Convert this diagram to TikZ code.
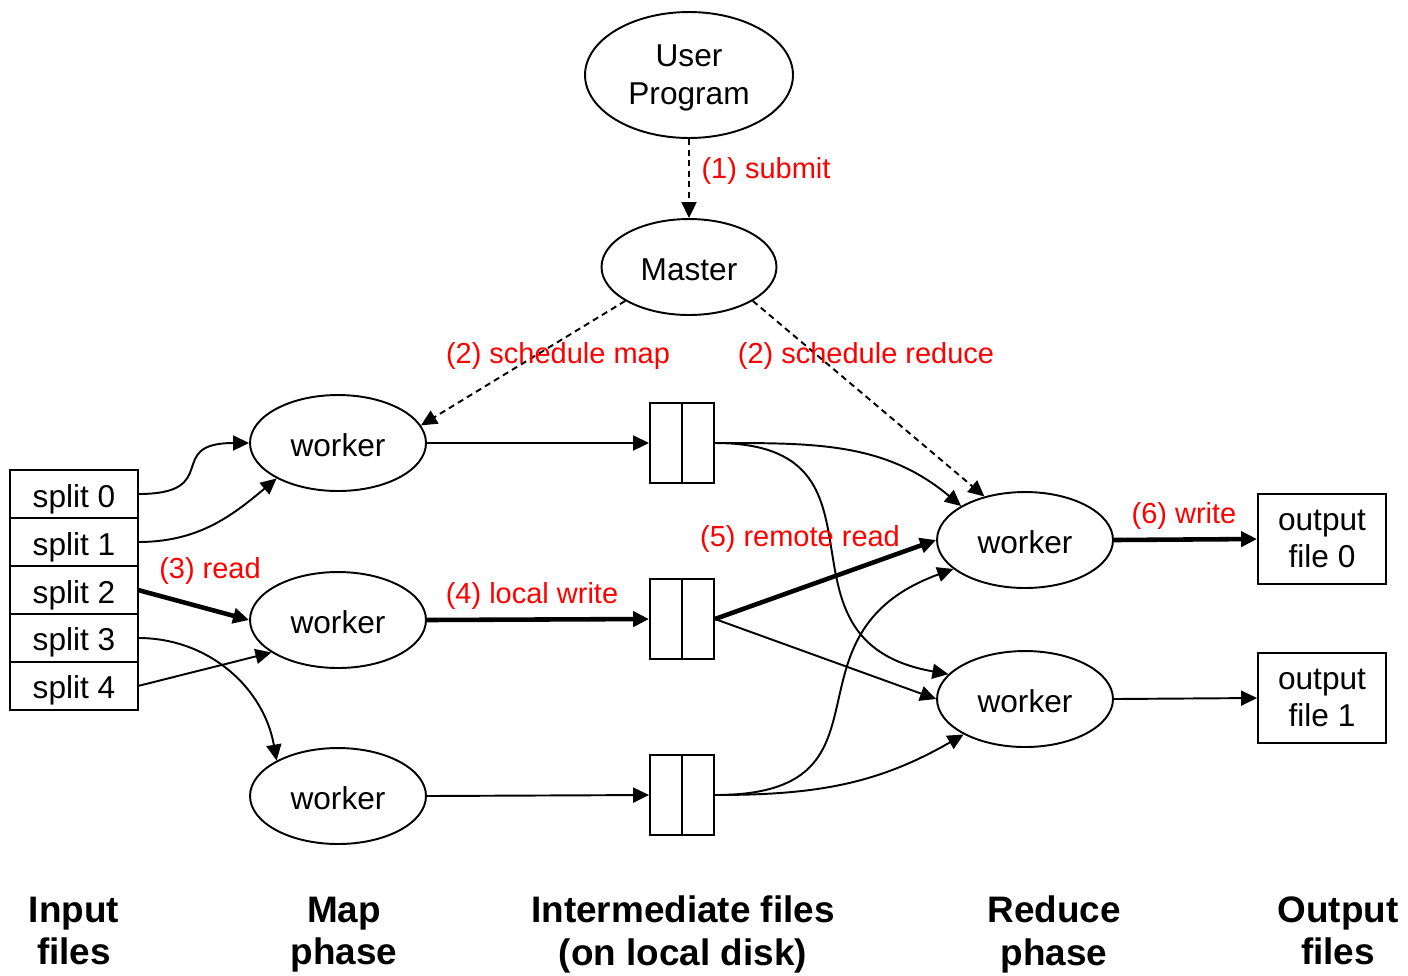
\documentclass[tikz,border=0pt]{standalone}
\usepackage{fontspec}
\setmainfont{Liberation Sans}
\usetikzlibrary{arrows.meta}
\usetikzlibrary{shapes.geometric}
\usetikzlibrary{positioning}

\tikzset{
  wk/.style={draw,ellipse,minimum width=3.52cm,minimum height=1.92cm,inner sep=0pt,
    text height=15.5pt,text depth=0pt,font=\fontsize{18}{21.6}\selectfont},
  split/.style={draw,rectangle,minimum width=2.56cm,minimum height=0.96cm,inner sep=0pt,
    outer sep=0pt,text height=14.8pt,text depth=0pt,font=\fontsize{18}{21.6}\selectfont},
  imd/.style={draw,rectangle,minimum width=1.28cm,minimum height=1.6cm,inner sep=0pt},
  outf/.style={draw,rectangle,minimum width=2.56cm,minimum height=1.8cm,inner sep=0pt,
    align=center,text depth=-3pt,font=\fontsize{18}{21}\selectfont},
  lbl/.style={text=red,inner sep=0pt,font=\fontsize{16.5}{19.8}\selectfont},
  phase/.style={align=center,inner sep=0pt,text depth=5pt,font=\fontsize{21}{24}\selectfont\bfseries},
  thk/.style={line width=2.6pt},
  dsh/.style={dash pattern=on 3.5pt off 2.5pt}
}

\begin{document}
\begin{tikzpicture}[x=0.02cm,y=0.02cm,line width=1.1pt,
  >={Triangle[length=3.2mm,width=3mm]}]
\useasboundingbox (0,-975) rectangle (1408,0);

\node[wk,minimum width=4.16cm,minimum height=2.52cm,align=center,text height=,text depth=-3pt]
  (up) at (689,-75) {User\\Program};
\node[wk,minimum width=3.5cm] (ms) at (689,-267) {Master};

% input files
\node[split] (s0) at (74,-494) {split 0};
\foreach \i [count=\j from 0] in {1,...,4}
  \node[split,below=0pt of s\j] (s\i) {split \i};

% map and reduce workers, intermediate files
\foreach \n/\y in {1/443,2/620,3/796}
  \node[wk] (m\n) at (338,-\y) {worker};
\foreach \n/\y in {1/443,2/619,3/795}{
  \node[imd] (i\n) at (682,-\y) {};
  \draw (i\n.north) -- (i\n.south);
}
\node[wk] (r1) at (1025,-540) {worker};
\node[wk] (r2) at (1025,-699) {worker};
\node[outf] (o0) at (1322,-539) {output\\file 0};
\node[outf] (o1) at (1322,-698) {output\\file 1};

% master
\draw[dsh,->] (up.south) -- (ms.north);
\draw[dsh,->] (ms.208) -- (m1.12);
\draw[dsh,->] (ms.332) -- (r1.133);

% read
\draw[->] (s0.east) to[out=0,in=180,looseness=1.8] (m1.west);
\draw[->] (s1.east) to[out=0,in=220] (m1.210);
\draw[thk,->] (s2.east) -- (m2.west);
\draw[->] (s3.east) to[out=0,in=100] (m3.150);
\draw[->] (s4.east) -- (m2.206);

% local write
\draw[->] (m1.east) -- (i1.west);
\draw[thk,->] (m2.east) -- (i2.west);
\draw[->] (m3.east) -- (i3.west);

% remote read
\draw[->] (i1.east) to[out=0,in=140] (r1.152);
\draw[->] (i1.east) to[out=0,in=170,looseness=1.5] (r2.162);
\draw[thk,->] (i2.east) -- (r1.west);
\draw[->] (i2.east) -- (r2.west);
\draw[->] (i3.east) to[out=0,in=200,looseness=1.5] (r1.202);
\draw[->] (i3.east) to[out=0,in=210] (r2.210);

% write
\draw[thk,->] (r1.east) -- (o0.west);
\draw[->] (r2.east) -- (o1.west);

\node[lbl] (l1) at (766,-171) {(1) submit};
\node[lbl] (l2) at (558,-356) {(2) schedule map};
\node[lbl] (l2r) at (866,-356) {(2) schedule reduce};
\node[lbl] (l3) at (210,-571) {(3) read};
\node[lbl] (l4) at (532,-596) {(4) local write};
\node[lbl] (l5) at (800,-539) {(5) remote read};
\node[lbl] (l6) at (1184,-516) {(6) write};

\node[phase] (pin) at (74,-935) {Input\\files};
\node[phase] (pmap) at (344,-935) {Map\\phase};
\node[phase] (pimd) at (683,-935) {Intermediate files\\(on local disk)};
\node[phase] (pred) at (1054,-935) {Reduce\\phase};
\node[phase] (pout) at (1338,-935) {Output\\files};
\end{tikzpicture}
\end{document}
